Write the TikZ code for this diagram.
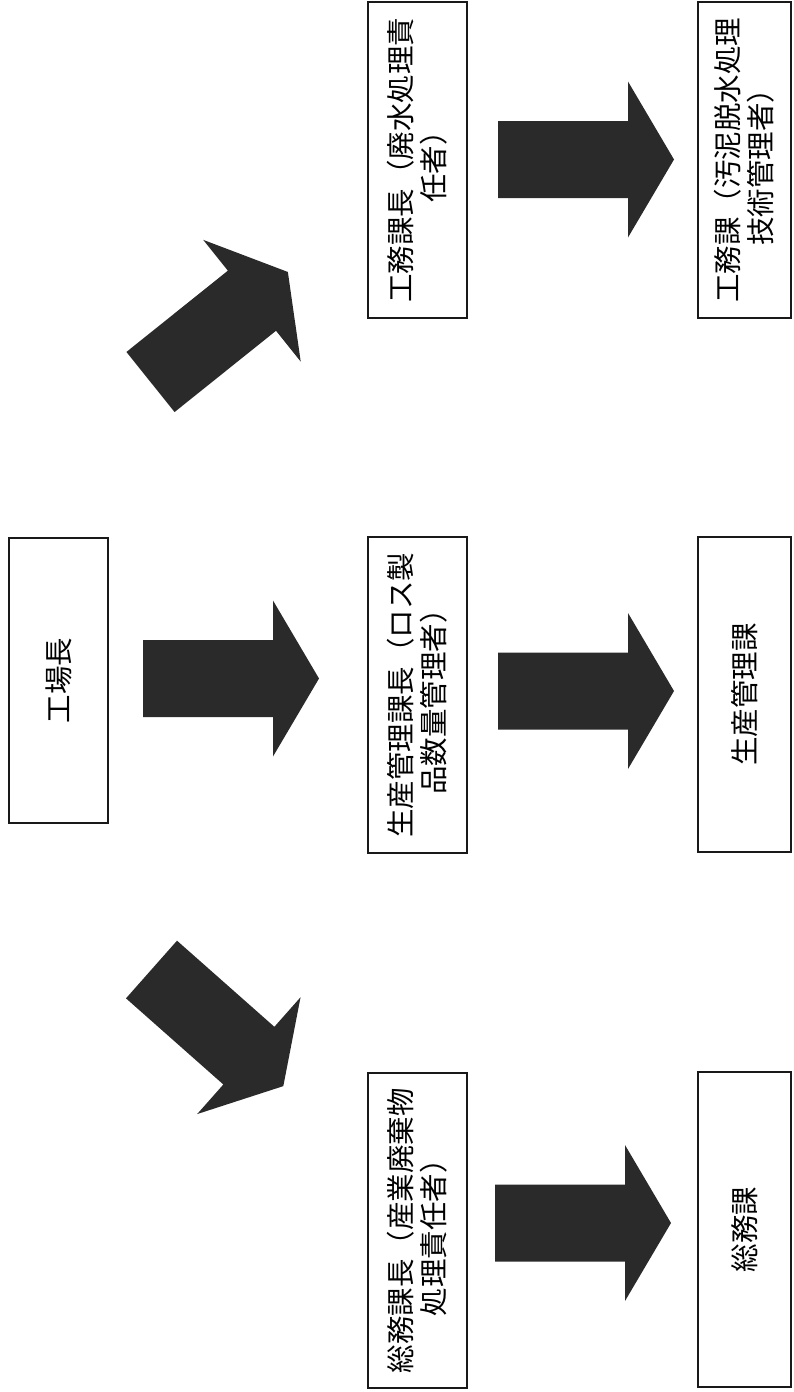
\documentclass[tikz,border=0pt]{standalone}
\usepackage{fontspec}
\newfontfamily\cjk{Noto Sans CJK JP}
\definecolor{arrowgray}{RGB}{42,42,42}
\tikzset{
  orgbox/.style={draw=black!90, line width=2pt, fill=white, rotate=90, inner sep=0pt,
    align=center, font=\cjk\fontsize{28.5}{33}\selectfont},
  pics/blockarrow/.style={code={
    \fill[arrowgray] (0,-38.5) -- (130,-38.5) -- (130,-78) -- (176,0) -- (130,78) -- (130,38.5) -- (0,38.5) -- cycle;
  }}
}
\begin{document}
\begin{tikzpicture}[x=1pt,y=-1pt]
\useasboundingbox (0,0) rectangle (793,1392);
% boxes
\node[orgbox, minimum width=285, minimum height=99] (boss) at (58.5,680.5) {工場長};
\node[orgbox, minimum width=316, minimum height=99] (komucho) at (417.5,160) {工務課長（廃水処理責\\任者）};
\node[orgbox, minimum width=316, minimum height=99] (seisancho) at (417.5,695) {生産管理課長（ロス製\\品数量管理者）};
\node[orgbox, minimum width=315, minimum height=99] (somucho) at (417.5,1230.5) {総務課長（産業廃棄物\\処理責任者）};
\node[orgbox, minimum width=316, minimum height=93] (komuka) at (744.5,160) {工務課（汚泥脱水処理\\技術管理者）};
\node[orgbox, minimum width=315, minimum height=93] (seisanka) at (744.5,694.5) {生産管理課};
\node[orgbox, minimum width=315, minimum height=93] (somuka) at (744.5,1229.5) {総務課};
% block arrows
\pic[rotate=38.7] at (150.5,382) {blockarrow};
\pic[rotate=-41.5] at (151.5,969.5) {blockarrow};
\pic at (143,678.5) {blockarrow};
\pic at (498,159.5) {blockarrow};
\pic at (498,691) {blockarrow};
\pic at (495,1223) {blockarrow};
\end{tikzpicture}
\end{document}
